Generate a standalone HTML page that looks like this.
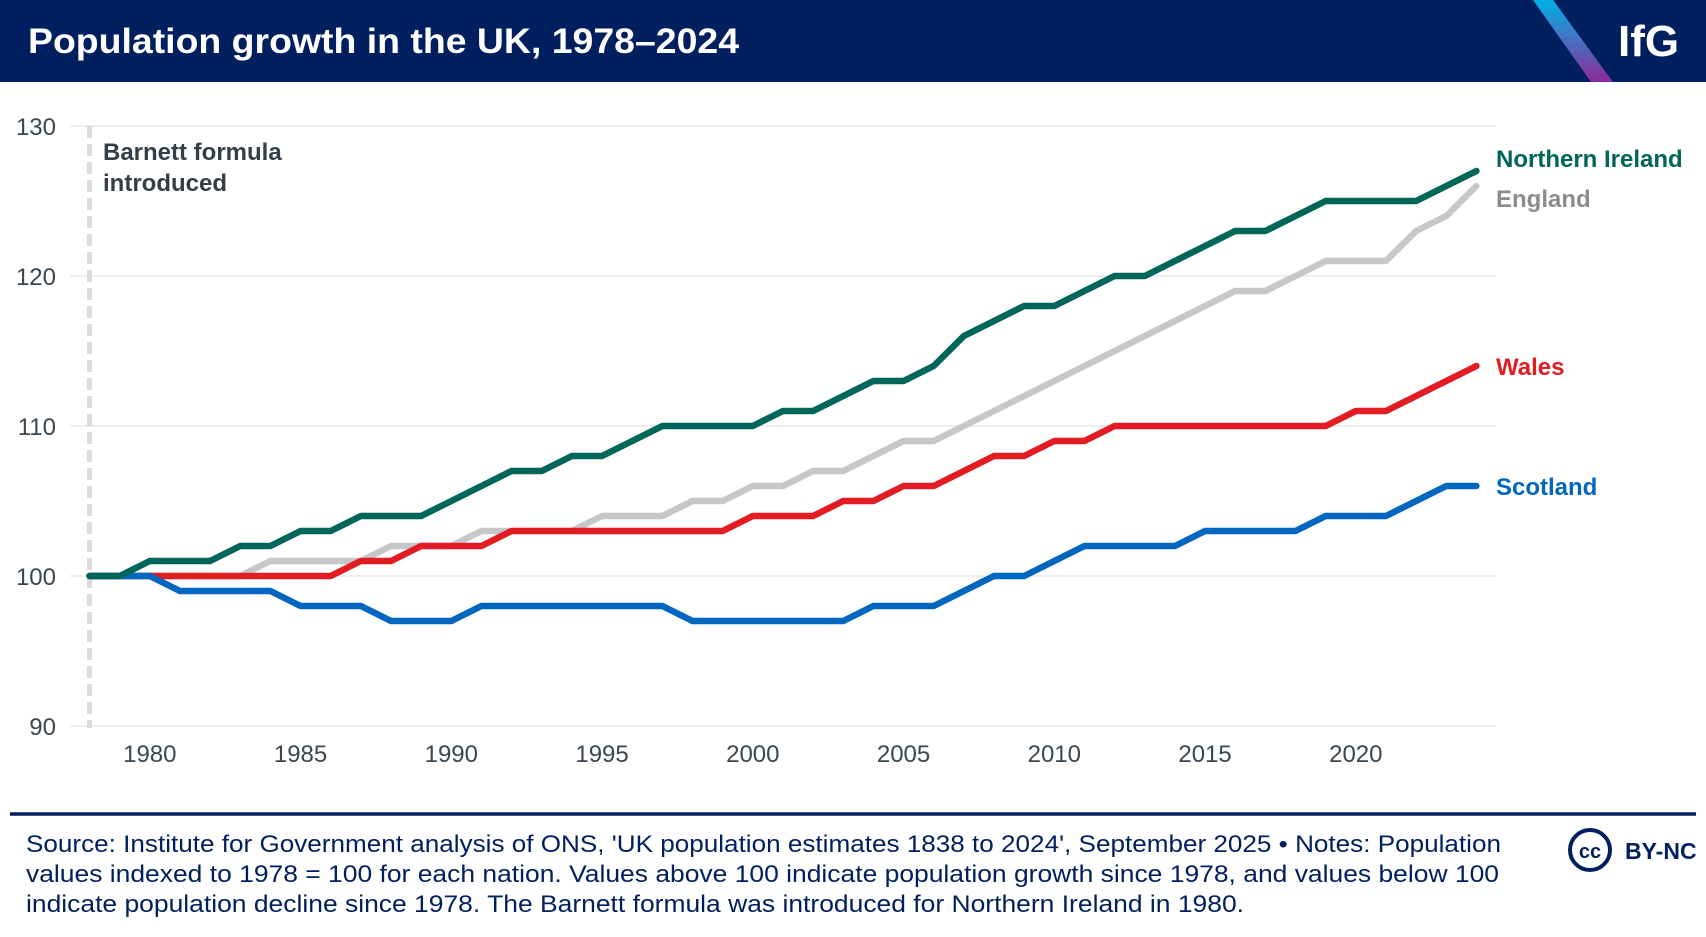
<!DOCTYPE html>
<html><head><meta charset="utf-8">
<style>
html,body{margin:0;padding:0;background:#fff;}
body{width:1706px;height:932px;position:relative;overflow:hidden;font-family:"Liberation Sans",sans-serif;}
</style></head>
<body>
<svg id="chart" width="1706" height="932" viewBox="0 0 1706 932" xmlns="http://www.w3.org/2000/svg" font-family="Liberation Sans, sans-serif">
  <defs>
    <linearGradient id="slashg" x1="0" y1="0" x2="0" y2="1">
      <stop offset="0" stop-color="#00b0e6"/>
      <stop offset="0.5" stop-color="#4a6fc0"/>
      <stop offset="1" stop-color="#8a2a9a"/>
    </linearGradient>
  </defs>
  <rect x="0" y="0" width="1706" height="82" fill="#001f5f"/>
  <text x="28" y="53" font-size="35" font-weight="bold" fill="#fff" textLength="711" lengthAdjust="spacingAndGlyphs">Population growth in the UK, 1978–2024</text>
  <polygon points="1533,0 1553,0 1613,82 1591,82" fill="url(#slashg)"/>
  <text x="1618" y="56" font-size="44" font-weight="bold" fill="#fff">IfG</text>

  <g id="grid"></g>
  <line id="barnett" x1="0" y1="126" x2="0" y2="728" stroke="#dcdcdc" stroke-width="5" stroke-dasharray="12,6"/>
  <text x="103" y="160" font-size="24" font-weight="bold" fill="#333f48">Barnett formula</text>
  <text x="103" y="191" font-size="24" font-weight="bold" fill="#333f48">introduced</text>
  <g id="series"></g>
  <g id="labels"></g>

  <line x1="10" y1="814" x2="1696" y2="814" stroke="#001f5f" stroke-width="3.5"/>
  <text font-size="24" fill="#001f5f" lengthAdjust="spacingAndGlyphs">
    <tspan x="26" y="852" textLength="1475" lengthAdjust="spacingAndGlyphs">Source: Institute for Government analysis of ONS, 'UK population estimates 1838 to 2024', September 2025 • Notes: Population</tspan>
    <tspan x="26" y="882" textLength="1473" lengthAdjust="spacingAndGlyphs">values indexed to 1978 = 100 for each nation. Values above 100 indicate population growth since 1978, and values below 100</tspan>
    <tspan x="26" y="912" textLength="1218" lengthAdjust="spacingAndGlyphs">indicate population decline since 1978. The Barnett formula was introduced for Northern Ireland in 1980.</tspan>
  </text>
  <g>
    <circle cx="1590" cy="850" r="20" fill="none" stroke="#001f5f" stroke-width="4"/>
    <text x="1590" y="858" font-size="20" font-weight="bold" fill="#001f5f" text-anchor="middle">cc</text>
    <text x="1625" y="859" font-size="23" font-weight="bold" fill="#001f5f">BY-NC</text>
  </g>
</svg>
<script>
const years = [];
for (let y = 1978; y <= 2024; y++) years.push(y);
const northernIreland = [100,100,101,101,101,102,102,103,103,104,104,104,105,106,107,107,108,108,109,110,110,110,110,111,111,112,113,113,114,116,117,118,118,119,120,120,121,122,123,123,124,125,125,125,125,126,127];
const england = [100,100,100,100,100,100,101,101,101,101,102,102,102,103,103,103,103,104,104,104,105,105,106,106,107,107,108,109,109,110,111,112,113,114,115,116,117,118,119,119,120,121,121,121,123,124,126];
const wales = [100,100,100,100,100,100,100,100,100,101,101,102,102,102,103,103,103,103,103,103,103,103,104,104,104,105,105,106,106,107,108,108,109,109,110,110,110,110,110,110,110,110,111,111,112,113,114];
const scotland = [100,100,100,99,99,99,99,98,98,98,97,97,97,98,98,98,98,98,98,98,97,97,97,97,97,97,98,98,98,99,100,100,101,102,102,102,102,103,103,103,103,104,104,104,105,106,106];
const yTicks = [90,100,110,120,130];
const xTicks = [1980,1985,1990,1995,2000,2005,2010,2015,2020];

const NS = "http://www.w3.org/2000/svg";
const x = yr => 89.5 + (yr - 1978) * 30.15;
const y = v => 576 - (v - 100) * 15.0;

const grid = document.getElementById('grid');
yTicks.forEach(t => {
  const l = document.createElementNS(NS, 'line');
  l.setAttribute('x1', 70); l.setAttribute('x2', 1496);
  l.setAttribute('y1', y(t)); l.setAttribute('y2', y(t));
  l.setAttribute('stroke', '#eeeeee'); l.setAttribute('stroke-width', 2);
  
  
  grid.appendChild(l);
  const tx = document.createElementNS(NS, 'text');
  tx.setAttribute('x', 56); tx.setAttribute('y', y(t) + 9);
  tx.setAttribute('text-anchor', 'end'); tx.setAttribute('font-size', 24);
  tx.setAttribute('fill', '#3a4650');
  tx.textContent = t;
  
  
  grid.appendChild(tx);
});
xTicks.forEach(t => {
  const tx = document.createElementNS(NS, 'text');
  tx.setAttribute('x', x(t)); tx.setAttribute('y', 762);
  tx.setAttribute('text-anchor', 'middle'); tx.setAttribute('font-size', 24);
  tx.setAttribute('fill', '#3a4650');
  tx.textContent = t;
  
  
  grid.appendChild(tx);
});
const bl = document.getElementById('barnett');
bl.setAttribute('x1', x(1978)); bl.setAttribute('x2', x(1978));

const series = [
  {name:'england', data:england, color:'#c5c7c9', label:'England', labelColor:'#8a8c8e', ly:207},
  {name:'wales', data:wales, color:'#e31b23', label:'Wales', labelColor:'#e31b23', ly:375},
  {name:'scotland', data:scotland, color:'#0066c0', label:'Scotland', labelColor:'#0066c0', ly:495},
  {name:'northern-ireland', data:northernIreland, color:'#00665a', label:'Northern Ireland', labelColor:'#00665a', ly:167}
];
const sg = document.getElementById('series');
const lg = document.getElementById('labels');
series.forEach(s => {
  const p = document.createElementNS(NS, 'polyline');
  p.setAttribute('points', s.data.map((v, i) => x(years[i]) + ',' + y(v)).join(' '));
  p.setAttribute('fill', 'none'); p.setAttribute('stroke', s.color);
  p.setAttribute('stroke-width', 6.5); p.setAttribute('stroke-linejoin', 'round');
  p.setAttribute('stroke-linecap', 'round');
  
  
  sg.appendChild(p);
  const t = document.createElementNS(NS, 'text');
  t.setAttribute('x', 1496); t.setAttribute('y', s.ly);
  t.setAttribute('font-size', 24); t.setAttribute('font-weight', 'bold');
  t.setAttribute('fill', s.labelColor);
  t.textContent = s.label;
  
  
  lg.appendChild(t);
});
</script>
</body></html>
